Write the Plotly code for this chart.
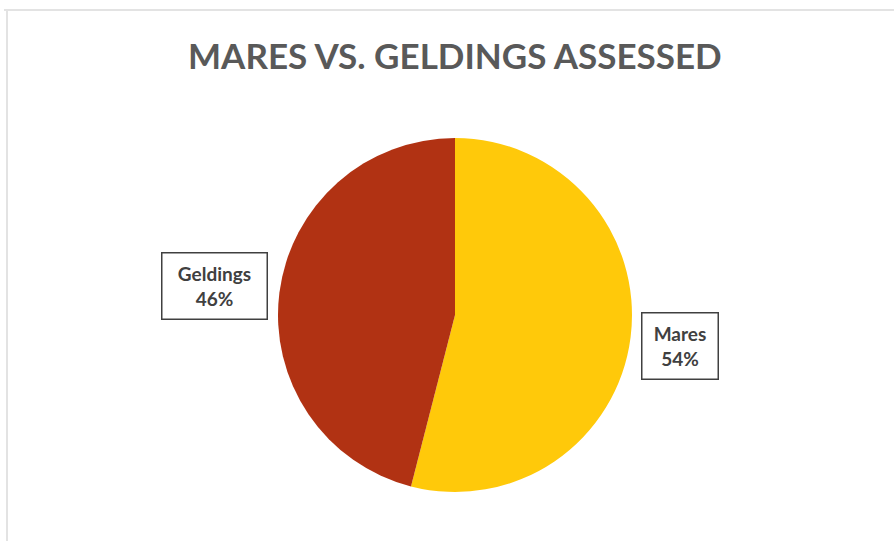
import plotly.graph_objects as go

labels = ["Mares", "Geldings"]
values = [54, 46]
colors = ["#FFC90A", "#B13213"]
title_text = "MARES VS. GELDINGS ASSESSED"

W, H = 894, 541
FONT = "Lato, 'Liberation Sans', Arial, sans-serif"

fig = go.Figure(go.Pie(
    labels=labels,
    values=values,
    sort=False,
    direction="clockwise",
    rotation=0,
    marker=dict(colors=colors, line=dict(width=0)),
    textinfo="none",
    hoverinfo="label+percent",
    showlegend=False,
    domain=dict(x=[278 / W, 632 / W], y=[1 - 492 / H, 1 - 138 / H]),
))

label_pos = {"Geldings": (214, 286, 100), "Mares": (679.5, 346, 71)}
total = sum(values)
for lab, val in zip(labels, values):
    cx, cy, w = label_pos[lab]
    fig.add_annotation(
        x=cx / W, y=1 - cy / H, xref="paper", yref="paper",
        xanchor="center", yanchor="middle",
        text=f"<b>{lab}</b><br><b>{round(100 * val / total)}%</b>",
        showarrow=False,
        font=dict(family=FONT, size=19, color="#404040"),
        bordercolor="#404040", borderwidth=1.5, bgcolor="white",
        width=w, height=61, borderpad=2, align="center", valign="middle",
    )

fig.add_annotation(
    x=455 / W, y=1 - 55 / H, xref="paper", yref="paper",
    text=f"<b>{title_text}</b>", showarrow=False,
    font=dict(family=FONT, size=35, color="#595959"),
    xanchor="center", yanchor="middle",
)

# frame lines
fig.add_shape(type="line", xref="paper", yref="paper",
              x0=4 / W, x1=1, y0=1 - 10 / H, y1=1 - 10 / H,
              line=dict(color="#E3E3E3", width=2))
fig.add_shape(type="line", xref="paper", yref="paper",
              x0=7 / W, x1=7 / W, y0=0, y1=1 - 10 / H,
              line=dict(color="#E3E3E3", width=2))

fig.update_layout(
    width=W, height=H,
    margin=dict(l=0, r=0, t=0, b=0),
    paper_bgcolor="white", plot_bgcolor="white",
)

fig.write_html("out.html", config={"displayModeBar": False},
               post_script="document.body.style.margin='0';document.body.style.overflow='hidden';")
